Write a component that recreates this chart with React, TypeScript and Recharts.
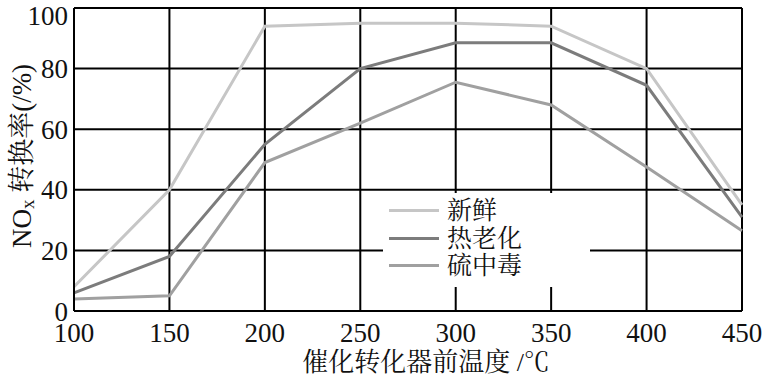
import { LineChart, Line, XAxis, YAxis, CartesianGrid, Legend } from 'recharts'

const temps = [100, 150, 200, 250, 300, 350, 400, 450]
const fresh = [8, 40, 94, 95, 95, 94, 80, 35]
const aged = [6, 18, 55, 80, 88.5, 88.5, 74.5, 31]
const sulfur = [4, 5, 49, 62, 75.5, 68, 47.5, 26.5]
const xTicks = [100, 150, 200, 250, 300, 350, 400, 450]
const yTicks = [0, 20, 40, 60, 80, 100]

const series = [
  { key: 'fresh', name: '新鲜', color: '#c6c6c6' },
  { key: 'aged', name: '热老化', color: '#7c7c7c' },
  { key: 'sulfur', name: '硫中毒', color: '#a0a0a0' },
]

const data = temps.map((t, i) => ({ t, fresh: fresh[i], aged: aged[i], sulfur: sulfur[i] }))

const serif = '"Liberation Serif", "Noto Sans CJK SC", serif'
const cjk = '"Liberation Serif", "Noto Serif CJK SC", "Noto Sans CJK SC", serif'

function LegendBox() {
  return (
    <div style={{ background: '#fff', width: 207, height: 94, paddingTop: 4, boxSizing: 'border-box' }}>
      {series.map(s => (
        <div key={s.key} style={{ display: 'flex', alignItems: 'center', height: 27.5 }}>
          <div style={{ width: 50, height: 3, background: s.color, marginLeft: 6, marginRight: 8 }} />
          <span style={{ fontFamily: cjk, fontSize: 25, color: '#111', lineHeight: '27px' }}>{s.name}</span>
        </div>
      ))}
    </div>
  )
}

function YTitle() {
  return (
    <text x={22} y={156} transform="rotate(-90 22 156)" textAnchor="middle" dominantBaseline="central"
      fontFamily={cjk} fontSize={27} fill="#111">
      NO<tspan fontSize={19} dy={5}>x</tspan><tspan dy={-5}> 转换率(/%)</tspan>
    </text>
  )
}

export default function App() {
  return (
    <div style={{ position: 'fixed', left: 0, top: 0, background: '#fff' }}>
      <LineChart width={766} height={378} data={data} margin={{ top: 8, right: 24, left: 0, bottom: 0 }}>
        <CartesianGrid stroke="#000" strokeWidth={2} />
        <XAxis dataKey="t" type="number" domain={[100, 450]} ticks={xTicks} height={67}
          axisLine={{ stroke: '#000', strokeWidth: 2 }} tickLine={false}
          tick={{ fill: '#111', fontSize: 27, fontFamily: serif, dy: 4 }}
          label={{ value: '催化转化器前温度 /℃', position: 'insideBottom', offset: 7, dx: 18, fill: '#111', fontSize: 26, fontFamily: cjk }} />
        <YAxis type="number" domain={[0, 100]} ticks={yTicks} width={74}
          axisLine={{ stroke: '#000', strokeWidth: 2 }} tickLine={false}
          tick={{ fill: '#111', fontSize: 27, fontFamily: serif, dx: 2 }}
          label={<YTitle />} />
        <Legend content={<LegendBox />} layout="horizontal" verticalAlign="middle" align="center"
          wrapperStyle={{ left: 383, top: 193, width: 207 }} />
        {series.map(s => (
          <Line key={s.key} dataKey={s.key} name={s.name} type="linear" stroke={s.color} strokeWidth={3}
            dot={false} isAnimationActive={false} />
        ))}
      </LineChart>
    </div>
  )
}
